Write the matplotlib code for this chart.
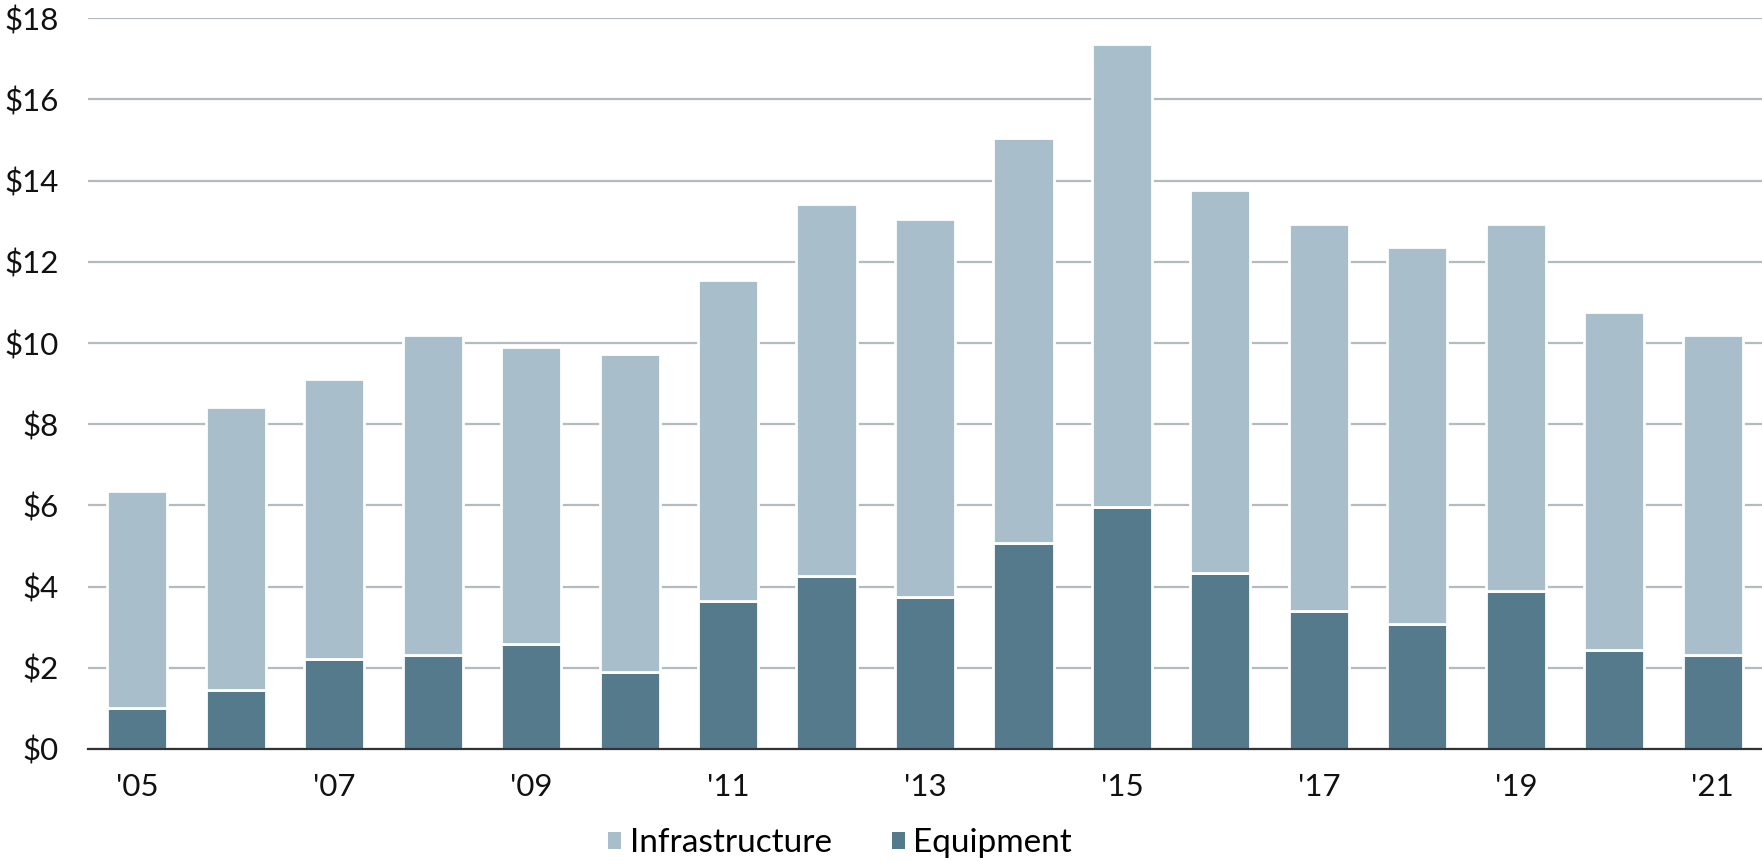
import matplotlib
matplotlib.use("Agg")
import matplotlib.pyplot as plt
from matplotlib.patches import Patch

plt.rcParams['font.family'] = ['Lato', 'DejaVu Sans']

years = ["'05", "'06", "'07", "'08", "'09", "'10", "'11", "'12", "'13",
         "'14", "'15", "'16", "'17", "'18", "'19", "'20", "'21"]
equipment = [1.02, 1.46, 2.21, 2.31, 2.59, 1.90, 3.64, 4.27, 3.75,
             5.07, 5.96, 4.34, 3.39, 3.07, 3.88, 2.45, 2.31]
total = [6.35, 8.42, 9.12, 10.19, 9.91, 9.73, 11.56, 13.43, 13.05,
         15.04, 17.37, 13.76, 12.94, 12.37, 12.94, 10.77, 10.20]
infrastructure = [t - e for t, e in zip(total, equipment)]
y_ticks = [0, 2, 4, 6, 8, 10, 12, 14, 16, 18]
y_labels = ["$" + str(v) for v in y_ticks]

c_infra = "#a8bfcb"
c_equip = "#557a8c"
c_grid = "#b4bbbf"

fig = plt.figure(figsize=(17.62, 8.61), dpi=100)
ax = fig.add_axes([88 / 1762, 1 - 749 / 861, 1 - 88 / 1762, (749 - 18.3) / 861])

x = list(range(len(years)))
ax.bar(x, equipment, width=0.61, color=c_equip, edgecolor="white",
       linewidth=2.0, zorder=3)
ax.bar(x, infrastructure, bottom=equipment, width=0.61, color=c_infra,
       edgecolor="white", linewidth=2.0, zorder=3)

ax.set_xlim(-0.5, len(years) - 0.5)
ax.set_ylim(0, 18)
ax.set_yticks(y_ticks)
ax.set_yticklabels(y_labels)
ax.set_xticks(x[::2])
ax.set_xticklabels(years[::2])
ax.yaxis.grid(True, color=c_grid, linewidth=1.6, zorder=0)
ax.set_axisbelow(True)
for side in ("top", "right", "left"):
    ax.spines[side].set_visible(False)
ax.spines["bottom"].set_color("#333333")
ax.spines["bottom"].set_linewidth(1.6)
ax.spines["bottom"].set_zorder(4)
ax.tick_params(axis="both", length=0, labelsize=22.5, colors="#111111")
ax.tick_params(axis="y", pad=21)
ax.tick_params(axis="x", pad=17)

handles = [Patch(facecolor=c_infra, edgecolor="none"),
           Patch(facecolor=c_equip, edgecolor="none")]
fig.legend(handles, ["Infrastructure", "Equipment"], loc="center",
           bbox_to_anchor=(840 / 1762, 1 - 843 / 861), ncol=2, frameon=False,
           fontsize=24, handlelength=0.4, handleheight=0.4, handletextpad=0.25,
           columnspacing=1.8, borderpad=0.2)

fig.savefig("out.png", dpi=100, facecolor="white")
